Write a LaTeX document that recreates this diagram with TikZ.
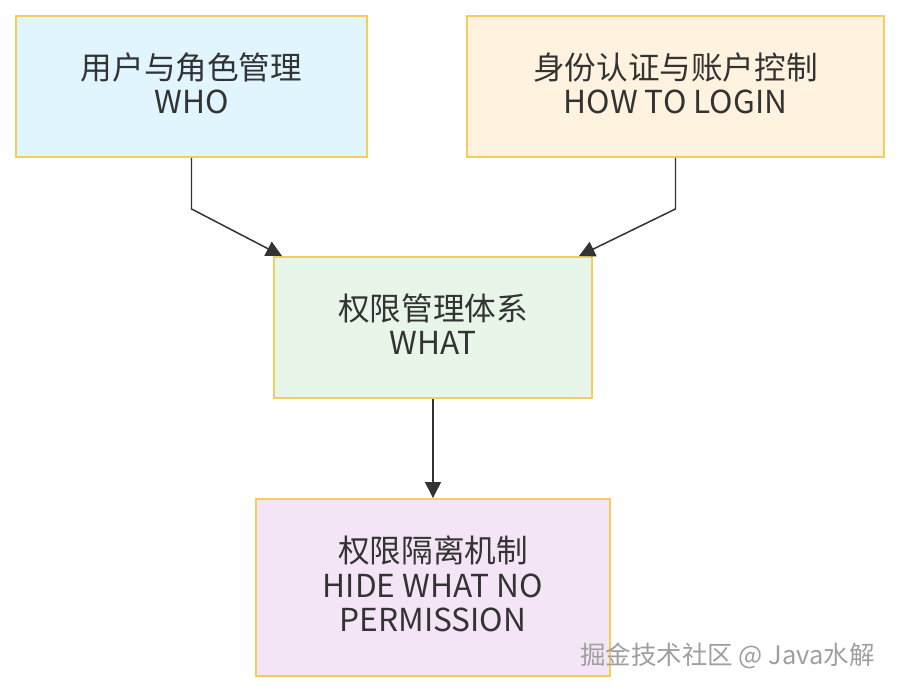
\documentclass[tikz,border=0pt]{standalone}
\usepackage{fontspec}
\setmainfont{Noto Sans CJK SC}
\usepackage{xcolor}
\definecolor{boxline}{HTML}{F6CD5A}
\definecolor{whofill}{HTML}{E1F5FE}
\definecolor{howfill}{HTML}{FFF3E0}
\definecolor{whatfill}{HTML}{E8F5E9}
\definecolor{hidefill}{HTML}{F3E5F5}
\definecolor{textdark}{HTML}{333333}
\definecolor{arrowdark}{HTML}{333333}
\usetikzlibrary{arrows.meta, positioning, calc}

\begin{document}
\begin{tikzpicture}[
        layer_node/.style={
            rectangle,
            draw=boxline,
            line width=1.1pt,
            align=center,
            minimum height=2.82cm,
            inner sep=0pt,
            text=textdark,
            font=\fontsize{18}{19.5}\selectfont
        },
        arrow/.style={
            -{Triangle[length=9pt, width=9pt]},
            draw=arrowdark,
            line width=0.85pt
        }
    ]
    \useasboundingbox (0,0) rectangle (18,-13.84);

    % Top layer
    \node[layer_node, fill=whofill, minimum width=7.02cm] (who) at (3.83,-1.73) {用户与角色管理\\WHO\vspace{4pt}};
    \node[layer_node, fill=howfill, minimum width=8.34cm] (how) at (13.51,-1.73) {身份认证与账户控制\\HOW TO LOGIN\vspace{4pt}};

    % Middle layer
    \node[layer_node, fill=whatfill, minimum width=6.36cm] (what) at (8.66,-6.55) {权限管理体系\\WHAT\vspace{4pt}};

    % Bottom layer
    \node[layer_node, fill=hidefill, minimum width=7.08cm, minimum height=3.54cm] (hide) at (8.66,-11.75) {权限隔离机制\\HIDE WHAT NO\\PERMISSION\vspace{4pt}};

    % Connecting Arrows
    \draw[arrow] (who.south) -- ++(0,-1.02) -- ([xshift=0.18cm]what.north west);
    \draw[arrow] (how.south) -- ++(0,-1.02) -- ([xshift=-0.28cm]what.north east);
    \draw[arrow] (what.south) -- (hide.north);

    % Watermark
    \node[text=gray!75, font=\fontsize{14.5}{16}\selectfont, anchor=east] (mark) at (17.62,-13.12) {掘金技术社区 @ Java水解};

\end{tikzpicture}
\end{document}
